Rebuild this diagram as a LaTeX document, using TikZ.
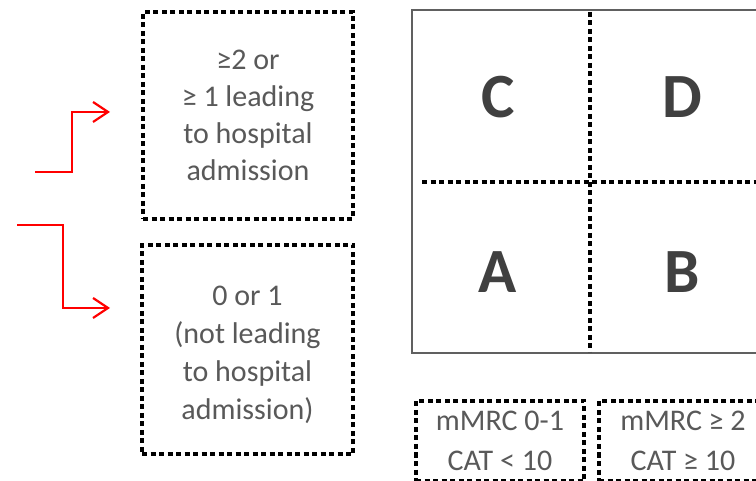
\documentclass[tikz,border=0pt]{standalone}
\usepackage{fontspec}
\setmainfont{Carlito}
\usetikzlibrary{arrows.meta}
\definecolor{txtgray}{HTML}{595959}
\definecolor{lettergray}{HTML}{404040}
\definecolor{boxgray}{HTML}{606060}
\begin{document}
\begin{tikzpicture}[x=1pt,y=-1pt,
  dbox/.style={draw=black, line width=3.5pt, dash pattern=on 5pt off 3.5pt, rectangle, inner sep=0pt,
    align=center, text=txtgray, font=\fontsize{30}{37}\selectfont},
  divline/.style={draw=black, line width=3.5pt, dash pattern=on 5pt off 3.5pt},
  quad/.style={text=lettergray, font=\fontsize{63}{70}\selectfont\bfseries},
  redarrow/.style={draw=red, line width=2.2pt, -{Straight Barb[length=15pt,width=20pt,line width=2.2pt]}}
]
\clip (0,0) rectangle (756,481);
\fill[white] (0,0) rectangle (756,481);

% left boxes
\node[dbox, minimum width=210pt, minimum height=207pt] (high) at (248,115.5)
  {≥2 or\\≥ 1 leading\\to hospital\\admission};
\node[dbox, minimum width=211pt, minimum height=209pt] (low) at (247.5,349.5) {};
\node[text=txtgray, align=center, font=\fontsize{30}{38}\selectfont] (lowtext) at (247.5,355)
  {0 or 1\\(not leading\\to hospital\\admission)};

% red arrows
\coordinate (u0) at (35,172);
\coordinate (u1) at (110,112);
\draw[redarrow] (u0) -| (72,112) -- (u1);
\coordinate (l0) at (17,225);
\coordinate (l1) at (110,308);
\draw[redarrow] (l0) -| (63,308) -- (l1);

% main grid
\node[draw=boxgray, line width=2pt, rectangle, minimum width=356pt, minimum height=343pt, inner sep=0pt] (grid) at (590,181.5) {};
\coordinate (vt) at (590,12);
\coordinate (vb) at (590,352);
\coordinate (hl) at (422,182);
\coordinate (hr) at (770,182);
\draw[divline] (vt) -- (vb);
\draw[divline] (hl) -- (hr);
\node[quad] (C) at (498,97) {C};
\node[quad] (D) at (682,97) {D};
\node[quad] (A) at (498,272) {A};
\node[quad] (B) at (682,272) {B};

% bottom boxes
\node[dbox, minimum width=168pt, minimum height=80pt, font=\fontsize{30}{40}\selectfont] (low2) at (500,441)
  {mMRC 0-1\\CAT < 10};
\node[dbox, minimum width=168pt, minimum height=80pt, font=\fontsize{30}{40}\selectfont] (high2) at (683,441)
  {mMRC ≥ 2\\CAT ≥ 10};
\end{tikzpicture}
\end{document}
